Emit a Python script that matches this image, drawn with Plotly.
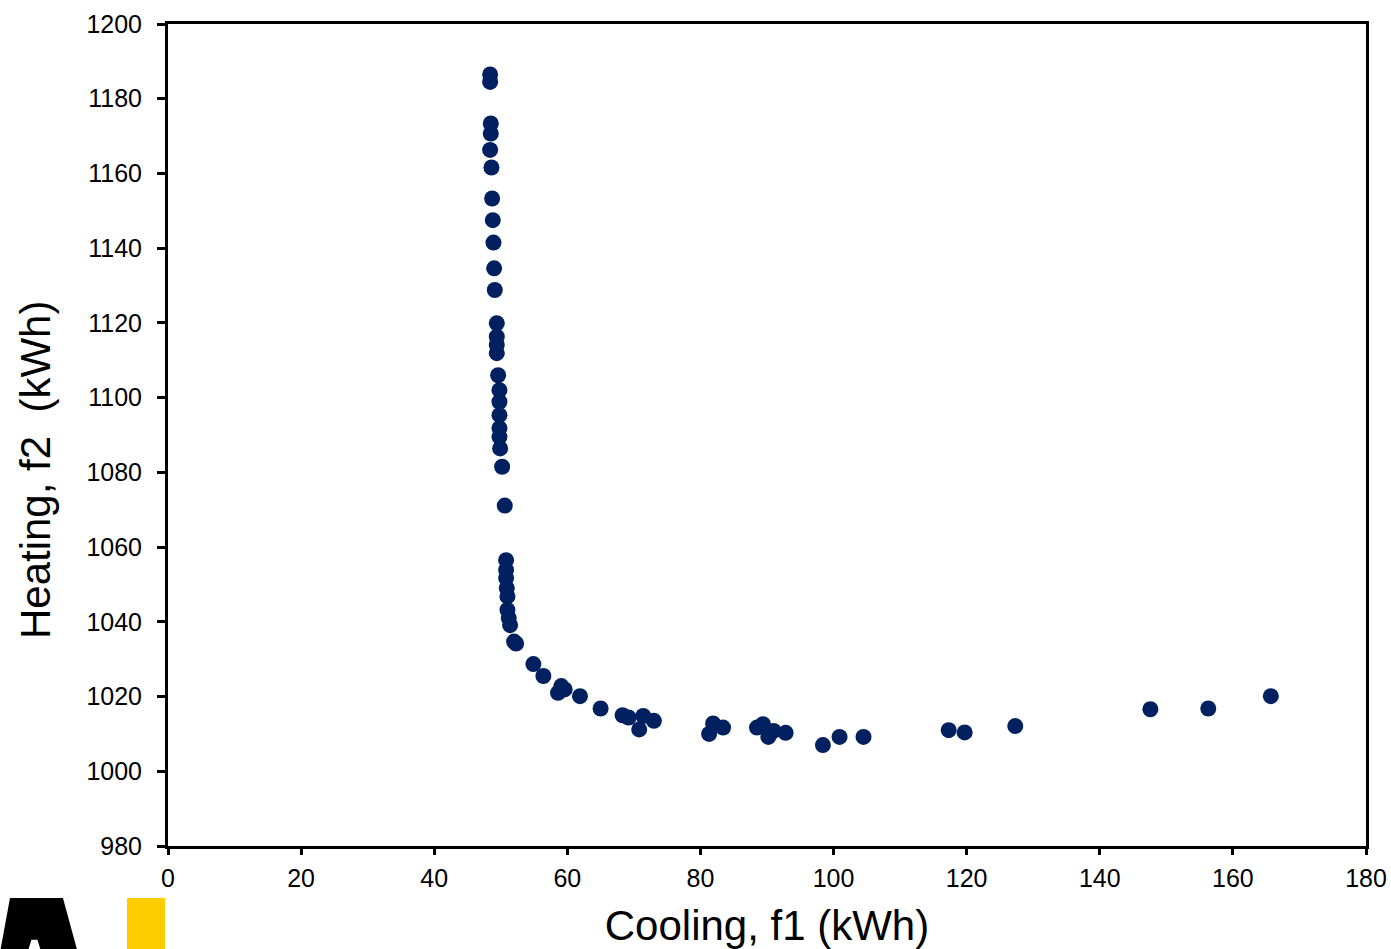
import plotly.graph_objects as go

cooling_f1 = [48.4, 48.4, 48.5, 48.5, 48.4, 48.6, 48.7, 48.8, 48.9, 49.0, 49.1, 49.4, 49.4, 49.4,
              49.4, 49.6, 49.8, 49.8, 49.8, 49.8, 49.8, 49.9, 50.2, 50.6, 50.8, 50.8, 50.8,
              50.9, 51.0, 51.0, 51.2, 51.4, 52.0, 52.3, 54.9, 56.4, 59.1, 58.6, 59.6, 61.9,
              65.0, 68.3, 69.2, 71.4, 70.8, 73.0, 81.9, 81.3, 83.4, 88.5, 89.4, 90.2, 91.0,
              92.8, 98.4, 100.9, 104.5, 117.3, 119.7, 127.3, 147.6, 156.3, 165.7]
heating_f2 = [1186.5, 1184.5, 1173.4, 1170.7, 1166.3, 1161.6, 1153.3, 1147.5, 1141.5, 1134.6,
              1128.8, 1119.9, 1116.3, 1114.1, 1111.9, 1106.0, 1102.0, 1098.9, 1095.3, 1091.8,
              1089.5, 1086.4, 1081.5, 1071.1, 1056.5, 1053.9, 1051.7, 1049.0, 1046.8, 1043.2,
              1041.0, 1039.1, 1034.7, 1034.2, 1028.7, 1025.5, 1022.8, 1021.0, 1021.9, 1020.1,
              1016.8, 1015.0, 1014.4, 1014.8, 1011.2, 1013.5, 1012.8, 1010.0, 1011.7, 1011.7,
              1012.6, 1009.2, 1010.8, 1010.3, 1007.0, 1009.2, 1009.2, 1011.0, 1010.4, 1012.1,
              1016.6, 1016.8, 1020.1]

x_ticks = list(range(0, 181, 20))
y_ticks = list(range(980, 1201, 20))

FONT = "Liberation Sans, Arial, sans-serif"

fig = go.Figure()
fig.add_trace(go.Scatter(
    x=cooling_f1, y=heating_f2, mode="markers",
    marker=dict(color="#002060", size=16, line=dict(width=0)),
    showlegend=False,
))

axis_common = dict(
    showgrid=False, zeroline=False, showline=True, linecolor="black", linewidth=3,
    mirror=True, ticks="outside", tickcolor="black", tickwidth=3, automargin=False,
    tickfont=dict(family=FONT, size=25, color="black"),
)
fig.update_xaxes(range=[0, 180], tickvals=x_ticks, ticklen=6, ticklabelstandoff=2,
                 title=dict(text="Cooling, f1 (kWh)", font=dict(family=FONT, size=42, color="black"),
                            standoff=22),
                 **axis_common)
fig.update_yaxes(range=[980, 1200], tickvals=y_ticks, ticklen=8, ticklabelstandoff=10,
                 **axis_common)

fig.add_annotation(text="Heating, f2  (kWh)", textangle=-90,
                   xref="paper", yref="paper", x=-0.111, y=0.4574,
                   xanchor="center", yanchor="middle", showarrow=False,
                   font=dict(family=FONT, size=42, color="black"))

# logo fragment at bottom left
fig.add_shape(type="rect", xref="paper", yref="paper",
              x0=-0.0342, x1=-0.0025, y0=-0.13, y1=-0.0633,
              fillcolor="#FFCC00", line=dict(width=0), layer="above")
fig.add_shape(type="path", xref="paper", yref="paper",
              path="M -0.1403,-0.13 L -0.1319,-0.0633 L -0.0877,-0.0633 L -0.0752,-0.13 "
                   "L -0.1056,-0.13 L -0.1090,-0.114 L -0.1140,-0.114 L -0.1174,-0.13 Z",
              fillcolor="black", line=dict(width=0), layer="above")

fig.update_layout(
    width=1391, height=949,
    margin=dict(l=168, r=25, t=24, b=103),
    plot_bgcolor="white", paper_bgcolor="white",
    font=dict(family=FONT, color="black"),
)

fig.write_html("out.html")
